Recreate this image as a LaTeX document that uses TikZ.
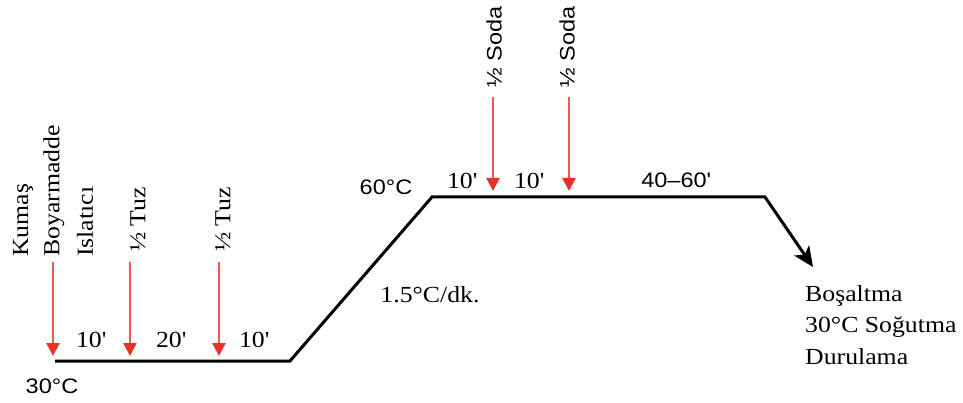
\documentclass[tikz,border=0pt]{standalone}
\usepackage{fontspec}
\setmainfont{Liberation Serif}[FakeStretch=1.12]
\newfontfamily\arialf{Liberation Sans}[FakeStretch=1.12]
\usetikzlibrary{arrows.meta}
\definecolor{redline}{RGB}{238,90,85}
\definecolor{redhead}{RGB}{230,50,40}
\tikzset{
  redarrow/.style={draw=redline,line width=2.4pt,-{Triangle[length=13pt,width=13pt,color=redhead]}},
  curve/.style={line width=3pt,line join=miter,-{Stealth[length=20pt,width=18pt,inset=5pt]}},
  serif/.style={font=\fontsize{23}{26}\selectfont,inner sep=0pt},
  sans/.style={font=\arialf\fontsize{21}{24}\selectfont,inner sep=0pt},
  vert/.style={rotate=90,anchor=west,inner sep=0pt},
}
\begin{document}
\begin{tikzpicture}[x=1pt,y=-1pt]
\useasboundingbox (0,0) rectangle (963,403);
% process curve
\coordinate (p0) at (55,361);
\coordinate (p1) at (290,361);
\coordinate (p2) at (432,197);
\coordinate (p3) at (765,197);
\coordinate (p4) at (813,267);
\draw[curve] (p0) -- (p1) -- (p2) -- (p3) -- (p4);
% red arrows
\coordinate (a1s) at (53,262);  \coordinate (a1e) at (53,356);
\coordinate (a2s) at (130,262); \coordinate (a2e) at (130,356);
\coordinate (a3s) at (219,262); \coordinate (a3e) at (219,356);
\coordinate (a4s) at (493,97);  \coordinate (a4e) at (493,191);
\coordinate (a5s) at (569,97);  \coordinate (a5e) at (569,191);
\draw[redarrow] (a1s) -- (a1e);
\draw[redarrow] (a2s) -- (a2e);
\draw[redarrow] (a3s) -- (a3e);
\draw[redarrow] (a4s) -- (a4e);
\draw[redarrow] (a5s) -- (a5e);
% vertical labels
\node[serif,vert] (kumas) at (23,257) {Kumaş};
\node[serif,vert] (boya) at (54,257) {Boyarmadde};
\node[serif,vert] (islat) at (85,257) {Islatıcı};
\node[serif,vert] (tuz1) at (138,252) {½ Tuz};
\node[serif,vert] (tuz2) at (223,252) {½ Tuz};
\node[sans,vert] (soda1) at (494,88) {½ Soda};
\node[sans,vert] (soda2) at (567,88) {½ Soda};
% durations
\node[serif] (t1) at (91,340) {10\textquotesingle};
\node[serif] (t2) at (171,340) {20\textquotesingle};
\node[serif] (t3) at (254,340) {10\textquotesingle};
\node[serif] (t4) at (462,181) {10\textquotesingle};
\node[serif] (t5) at (529,181) {10\textquotesingle};
\node[sans] (t6) at (676,180) {40–60\textquotesingle};
% temperatures
\node[sans] (c30) at (52,386) {30°C};
\node[sans] (c60) at (386,187) {60°C};
\node[serif] (rate) at (430,295) {1.5°C/dk.};
% end text
\node[serif,anchor=west] (bos) at (805,296) {Boşaltma};
\node[serif,anchor=west] (sog) at (805,327) {30°C Soğutma};
\node[serif,anchor=west] (dur) at (805,357) {Durulama};
\end{tikzpicture}
\end{document}
